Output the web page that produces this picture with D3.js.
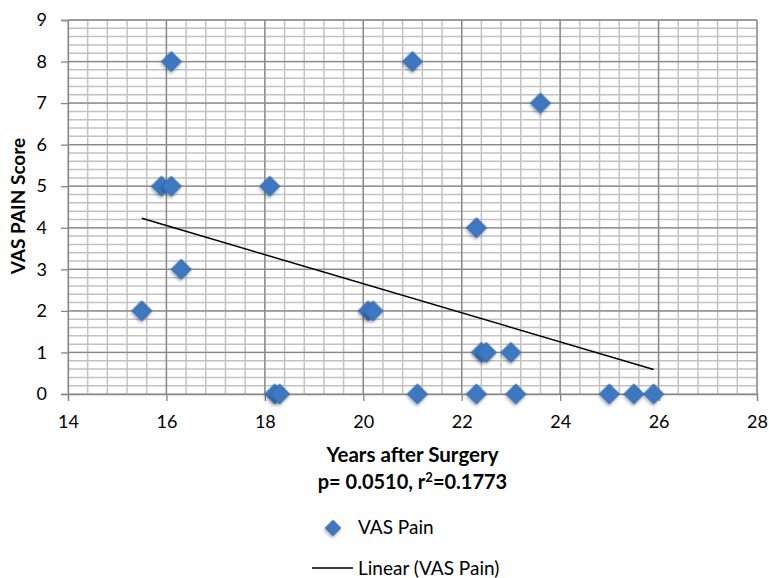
<!DOCTYPE html>
<html>
<head>
<meta charset="utf-8">
<script src="https://cdn.jsdelivr.net/npm/d3@7"></script>
<style>
  body { margin: 0; background: #fff; }
  text { font-family: Lato, "Open Sans", sans-serif; fill: #000; }
</style>
</head>
<body>
<div id="chart"></div>
<script>
// years after surgery vs VAS pain score
const years = [16.1, 15.9, 16.1, 16.3, 15.5, 18.1, 18.2, 18.3, 20.1, 20.2, 21.0,
               23.6, 22.3, 21.1, 22.3, 23.1, 25.0, 25.5, 25.9, 22.4, 22.5, 23.0];
const pain  = [8, 5, 5, 3, 2, 5, 0, 0, 2, 2, 8,
               7, 4, 0, 0, 0, 0, 0, 0, 1, 1, 1];
const xTicks = [14, 16, 18, 20, 22, 24, 26, 28];
const yTicks = [0, 1, 2, 3, 4, 5, 6, 7, 8, 9];
const seriesName = "VAS Pain";

const width = 769, height = 578,
      plotL = 68, plotR = 757, plotT = 20, plotB = 394;

const x = d3.scaleLinear().domain([14, 28]).range([plotL, plotR]),
      y = d3.scaleLinear().domain([0, 9]).range([plotB, plotT]);

const svg = d3.select("#chart").append("svg")
  .attr("width", width)
  .attr("height", height);

const defs = svg.append("defs");
const shadow = defs.append("filter").attr("id", "shadow")
  .attr("x", "-50%").attr("y", "-50%").attr("width", "200%").attr("height", "200%");
shadow.append("feDropShadow")
  .attr("dx", 1).attr("dy", 2).attr("stdDeviation", 1.5)
  .attr("flood-color", "#000").attr("flood-opacity", 0.3);

// minor grid: 0.4 on x, 0.2 on y
const xMinor = d3.range(0, 36).map(i => 14 + i * 0.4),
      yMinor = d3.range(0, 46).map(i => i * 0.2);

const grid = svg.append("g");
grid.selectAll(".xminor").data(xMinor).enter().append("line")
  .attr("x1", d => x(d)).attr("x2", d => x(d))
  .attr("y1", plotT).attr("y2", plotB)
  .style("stroke", "#c2c2c2").style("stroke-width", 1.5);
grid.selectAll(".yminor").data(yMinor).enter().append("line")
  .attr("x1", plotL).attr("x2", plotR)
  .attr("y1", d => y(d)).attr("y2", d => y(d))
  .style("stroke", "#c2c2c2").style("stroke-width", 1.5);
grid.selectAll(".xmajor").data(xTicks.slice(1)).enter().append("line")
  .attr("x1", d => x(d)).attr("x2", d => x(d))
  .attr("y1", plotT).attr("y2", plotB)
  .style("stroke", "#888").style("stroke-width", 1.3);
grid.selectAll(".ymajor").data(yTicks.slice(1)).enter().append("line")
  .attr("x1", plotL).attr("x2", plotR)
  .attr("y1", d => y(d)).attr("y2", d => y(d))
  .style("stroke", "#888").style("stroke-width", 1.3);

// axes
const xAxis = svg.append("g")
  .attr("transform", `translate(0,${plotB})`)
  .call(d3.axisBottom(x).tickValues(xTicks).tickSize(7).tickPadding(14));
const yAxis = svg.append("g")
  .attr("transform", `translate(${plotL},0)`)
  .call(d3.axisLeft(y).tickValues(yTicks).tickSize(7).tickPadding(14));
[xAxis, yAxis].forEach(a => {
  a.select(".domain").style("stroke", "#868686").style("stroke-width", 1.3);
  a.selectAll(".tick line").style("stroke", "#868686").style("stroke-width", 1.3);
  a.selectAll(".tick text")
    .style("font-family", "Lato, sans-serif")
    .style("font-size", "18px")
    .style("fill", "#000");
});

// trend line (least squares)
const mx = d3.mean(years), my = d3.mean(pain);
const slope = d3.sum(years, (v, i) => (v - mx) * (pain[i] - my)) /
              d3.sum(years, v => (v - mx) * (v - mx));
const icpt = my - slope * mx;
const xr = d3.extent(years);
svg.append("path")
  .datum(xr.map(v => [v, icpt + slope * v]))
  .attr("d", d3.line().x(d => x(d[0])).y(d => y(d[1])))
  .style("fill", "none")
  .style("stroke", "#000")
  .style("stroke-width", 1.5);

// markers
const diamond = d3.symbol().type(d3.symbolSquare).size(200);
svg.append("g").selectAll("path")
  .data(years.map((v, i) => [v, pain[i]]))
  .enter().append("path")
  .attr("d", diamond)
  .attr("transform", d => `translate(${x(d[0])},${y(d[1])}) rotate(45)`)
  .attr("filter", "url(#shadow)")
  .style("fill", "#3d78c0")
  .style("stroke", "#3467a8")
  .style("stroke-width", 0.8);

// axis titles
svg.append("text")
  .attr("transform", "translate(25,206) rotate(-90)")
  .attr("text-anchor", "middle")
  .style("font-size", "19px").style("font-weight", "bold")
  .text("VAS PAIN Score");

svg.append("text")
  .attr("x", (plotL + plotR) / 2).attr("y", 462)
  .attr("text-anchor", "middle")
  .style("font-size", "20.5px").style("font-weight", "bold")
  .text("Years after Surgery");

const stat = svg.append("text")
  .attr("x", (plotL + plotR) / 2).attr("y", 489)
  .attr("text-anchor", "middle")
  .style("font-size", "20px").style("font-weight", "bold");
stat.append("tspan").text("p= 0.0510, r");
stat.append("tspan").attr("dy", -7).style("font-size", "13px").text("2");
stat.append("tspan").attr("dy", 7).text("=0.1773");

// legend
const legend = svg.append("g");
legend.append("path")
  .attr("d", d3.symbol().type(d3.symbolSquare).size(120))
  .attr("transform", "translate(333,528) rotate(45)")
  .attr("filter", "url(#shadow)")
  .style("fill", "#3d78c0")
  .style("stroke", "#3467a8")
  .style("stroke-width", 0.8);
legend.append("text")
  .attr("x", 358).attr("y", 534)
  .style("font-size", "19px")
  .text(seriesName);
legend.append("line")
  .attr("x1", 312).attr("x2", 353).attr("y1", 568).attr("y2", 568)
  .style("stroke", "#000").style("stroke-width", 1.5);
legend.append("text")
  .attr("x", 358).attr("y", 575)
  .style("font-size", "19px")
  .text(`Linear (${seriesName})`);
</script>
</body>
</html>
